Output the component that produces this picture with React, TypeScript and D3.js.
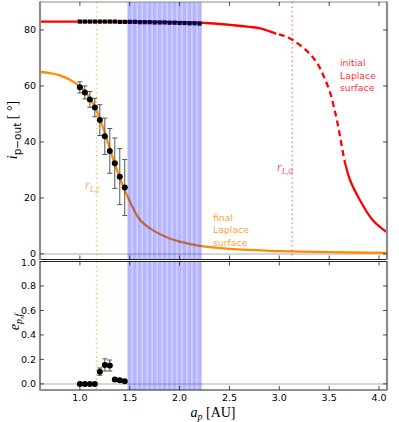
import { useEffect, useRef } from 'react';
import * as d3 from 'd3';

// simulated planets (final state)
const runA = [1.0, 1.05, 1.1, 1.15, 1.2, 1.25, 1.3, 1.35, 1.4, 1.45];
const incFinal = [59.5, 57.7, 55.2, 52.3, 47.8, 42.0, 36.8, 32.4, 27.6, 23.7];
const incErr = [2.0, 2.3, 2.8, 3.3, 5.5, 6.5, 8.0, 9.0, 10.0, 10.0];
const eccFinal = [0, 0, 0, 0, 0.1, 0.155, 0.15, 0.035, 0.03, 0.022];
const eccErr = [0, 0, 0, 0, 0.03, 0.05, 0.045, 0.012, 0.01, 0.008];

// initial inclinations
const initA = [1.0, 1.05, 1.1, 1.15, 1.2, 1.25, 1.3, 1.35, 1.4, 1.45, 1.5, 1.55, 1.6,
  1.65, 1.7, 1.75, 1.8, 1.85, 1.9, 1.95, 2.0, 2.05, 2.1, 2.15, 2.2];
const initInc = [83.0, 83.0, 83.0, 83.0, 83.0, 83.0, 83.0, 83.0, 82.9, 82.9, 82.9, 82.9, 82.8,
  82.8, 82.8, 82.7, 82.7, 82.7, 82.6, 82.6, 82.5, 82.5, 82.4, 82.4, 82.3];

// unstable runs
const bandA = [1.5, 1.55, 1.6, 1.65, 1.7, 1.75, 1.8, 1.85, 1.9, 1.95, 2.0, 2.05, 2.1, 2.15, 2.2];

// Laplace surfaces
const initSurfA = [0.6, 1.0, 1.5, 2.0, 2.3, 2.54, 2.7, 2.81, 2.97, 3.05, 3.14, 3.27, 3.37,
  3.44, 3.51, 3.57, 3.61, 3.66, 3.71, 3.81, 3.94, 4.08];
const initSurfI = [83.0, 83.0, 83.0, 82.8, 82.4, 81.7, 81.1, 80.6, 78.7, 77.9, 76.3, 72.7, 68.7,
  63.9, 57.5, 49.0, 41.8, 32.4, 26.3, 19.1, 11.9, 7.7];
const finalSurfA = [0.6, 0.7, 0.8, 0.9, 1.0, 1.05, 1.1, 1.15, 1.2, 1.25, 1.3, 1.35, 1.4, 1.45,
  1.5, 1.6, 1.7, 1.8, 1.9, 2.0, 2.2, 2.5, 3.0, 3.5, 4.08];
const finalSurfI = [65.0, 64.6, 63.8, 62.2, 59.8, 58.0, 55.6, 52.6, 48.3, 43.2, 37.6, 32.2, 27.2, 22.8,
  18.8, 12.3, 9.2, 7.1, 5.5, 4.4, 2.9, 1.8, 1.0, 0.6, 0.4];
const dashFrom = 2.97;
const dashTo = 3.66;

const rLf = 1.167;
const rL0 = 3.13;

const xTicks = [1.0, 1.5, 2.0, 2.5, 3.0, 3.5, 4.0];
const incTicks = [0, 20, 40, 60, 80];
const eccTicks = [0, 0.2, 0.4, 0.6, 0.8, 1.0];

const ORANGE = '#ff8c00';
const RED = '#ff0000';

function App() {
  const svgRef = useRef<SVGSVGElement>(null);

  useEffect(() => {
    const svg = d3.select(svgRef.current);
    svg.selectAll('*').remove();

    const left = 40, right = 387;
    const topY0 = 2, topY1 = 259.5;
    const botY0 = 261.5, botY1 = 390;

    const x = d3.scaleLinear().domain([0.6, 4.08]).range([left, right]);
    const yTop = d3.scaleLinear().domain([-2, 90]).range([topY1, topY0]);
    const yBot = d3.scaleLinear().domain([-0.05, 1.0]).range([botY1, botY0]);

    const defs = svg.append('defs');
    const clip = (id: string, x0: number, x1: number, y0: number, y1: number) => {
      defs.append('clipPath').attr('id', id)
        .append('rect').attr('x', x0).attr('y', y0).attr('width', x1 - x0).attr('height', y1 - y0);
    };
    clip('clipTop', left, right, topY0, topY1);
    clip('clipBot', left, right, botY0, botY1);
    clip('clipDash', x(dashFrom), x(dashTo), topY0, topY1);
    clip('clipSolidA', left, x(dashFrom), topY0, topY1);
    clip('clipSolidB', x(dashTo), right, topY0, topY1);

    const top = svg.append('g').attr('clip-path', 'url(#clipTop)');
    const bot = svg.append('g').attr('clip-path', 'url(#clipBot)');

    // zero lines
    top.append('line')
      .attr('x1', left).attr('x2', right).attr('y1', yTop(0)).attr('y2', yTop(0))
      .attr('stroke', '#c8c8c8').attr('stroke-width', 1.5);
    bot.append('line')
      .attr('x1', left).attr('x2', right).attr('y1', yBot(0)).attr('y2', yBot(0))
      .attr('stroke', '#c8c8c8').attr('stroke-width', 1.5);

    const line = d3.line<[number, number]>()
      .x(d => x(d[0]))
      .y(d => yTop(d[1]))
      .curve(d3.curveCatmullRom.alpha(0.5));

    // initial Laplace surface: solid, dashed in the middle, solid again
    const initPts = initSurfA.map((a, i) => [a, initSurfI[i]] as [number, number]);
    [['clipSolidA', null], ['clipDash', '6,4'], ['clipSolidB', null]].forEach(([id, dash]) => {
      top.append('path')
        .datum(initPts)
        .attr('clip-path', `url(#${id})`)
        .attr('fill', 'none')
        .attr('stroke', RED)
        .attr('stroke-width', 2.3)
        .attr('stroke-dasharray', dash)
        .attr('d', line);
    });

    // final Laplace surface
    top.append('path')
      .datum(finalSurfA.map((a, i) => [a, finalSurfI[i]] as [number, number]))
      .attr('fill', 'none')
      .attr('stroke', ORANGE)
      .attr('stroke-width', 2.3)
      .attr('d', line);

    // Laplace radii
    top.append('line')
      .attr('x1', x(rL0)).attr('x2', x(rL0)).attr('y1', topY0).attr('y2', topY1)
      .attr('stroke', RED).attr('stroke-opacity', 0.45)
      .attr('stroke-width', 1.5).attr('stroke-dasharray', '1.5,3');
    [top, bot].forEach((g, k) => {
      g.append('line')
        .attr('x1', x(rLf)).attr('x2', x(rLf))
        .attr('y1', k === 0 ? topY0 : botY0).attr('y2', k === 0 ? topY1 : botY1)
        .attr('stroke', ORANGE).attr('stroke-opacity', 0.5)
        .attr('stroke-width', 1.5).attr('stroke-dasharray', '1.5,3');
    });

    // initial inclinations
    const sq = 4.2;
    top.selectAll('rect.init')
      .data(initA)
      .join('rect')
      .attr('class', 'init')
      .attr('x', d => x(d) - sq / 2)
      .attr('y', (d, i) => yTop(initInc[i]) - sq / 2)
      .attr('width', sq)
      .attr('height', sq)
      .attr('fill', '#000');

    // error bars + points
    const drawErr = (g: any, y: any, vals: number[], errs: number[]) => {
      runA.forEach((a, i) => {
        if (errs[i] <= 0) return;
        const cx = x(a);
        const y1 = y(vals[i] - errs[i]);
        const y2 = y(vals[i] + errs[i]);
        g.append('line').attr('x1', cx).attr('x2', cx).attr('y1', y1).attr('y2', y2)
          .attr('stroke', '#555').attr('stroke-width', 1);
        [y1, y2].forEach(yy => {
          g.append('line').attr('x1', cx - 2.5).attr('x2', cx + 2.5).attr('y1', yy).attr('y2', yy)
            .attr('stroke', '#555').attr('stroke-width', 1);
        });
      });
      g.selectAll(null)
        .data(runA)
        .join('circle')
        .attr('cx', (d: number) => x(d))
        .attr('cy', (d: number, i: number) => y(vals[i]))
        .attr('r', 3)
        .attr('fill', '#000');
    };
    drawErr(top, yTop, incFinal, incErr);
    drawErr(bot, yBot, eccFinal, eccErr);

    // unstable band
    const half = (x(0.05) - x(0)) / 2;
    [[top, topY0, topY1], [bot, botY0, botY1]].forEach(([g, y0, y1]: any) => {
      g.append('rect')
        .attr('x', x(bandA[0]) - half).attr('y', y0)
        .attr('width', x(bandA[bandA.length - 1]) - x(bandA[0]) + 2 * half)
        .attr('height', y1 - y0)
        .attr('fill', '#0000ff').attr('fill-opacity', 0.15);
      g.selectAll(null)
        .data(bandA)
        .join('rect')
        .attr('x', (d: number) => x(d) - half + 0.5)
        .attr('y', y0)
        .attr('width', 2 * half - 1.2)
        .attr('height', y1 - y0)
        .attr('fill', '#0000ff').attr('fill-opacity', 0.16);
    });

    // annotations
    const note = (lines: string[], x0: number, y0: number, color: string) => {
      lines.forEach((t, i) => {
        svg.append('text')
          .attr('x', x0).attr('y', y0 + i * 12.5)
          .attr('fill', color).attr('fill-opacity', 0.85)
          .style('font-family', 'DejaVu Sans')
          .style('font-size', '9.3px')
          .text(t);
      });
    };
    note(['initial', 'Laplace', 'surface'], 340, 66, RED);
    note(['final', 'Laplace', 'surface'], 213, 220.5, ORANGE);

    const rLabel = (sub: string, x0: number, y0: number, color: string) => {
      const t = svg.append('text')
        .attr('x', x0).attr('y', y0)
        .attr('fill', color).attr('fill-opacity', 0.75)
        .style('font-family', 'Liberation Serif');
      t.append('tspan').style('font-style', 'italic').style('font-size', '12px').text('r');
      t.append('tspan').attr('dy', 2.5).style('font-style', 'italic').style('font-size', '8.5px').text(sub);
    };
    rLabel('L,f', 85, 189, ORANGE);
    rLabel('L,0', 277, 171, RED);

    // frames
    const frame = (y0: number, y1: number, topColor: string) => {
      svg.append('line').attr('x1', left).attr('x2', right).attr('y1', y0).attr('y2', y0)
        .attr('stroke', topColor).attr('stroke-width', 1);
      svg.append('line').attr('x1', left).attr('x2', right).attr('y1', y1).attr('y2', y1)
        .attr('stroke', '#222').attr('stroke-width', 1);
      [left, right].forEach(xx => {
        svg.append('line').attr('x1', xx).attr('x2', xx).attr('y1', y0 - 0.5).attr('y2', y1 + 0.5)
          .attr('stroke', '#8c8c8c').attr('stroke-width', 2.2);
      });
    };
    frame(topY0, topY1, '#888');
    frame(botY0, botY1, '#222');

    // ticks
    const tl = 4;
    const tickG = svg.append('g').attr('stroke', '#222').attr('stroke-width', 0.8);
    [[topY0, topY1], [botY0, botY1]].forEach(([y0, y1]) => {
      xTicks.forEach(t => {
        tickG.append('line').attr('x1', x(t)).attr('x2', x(t)).attr('y1', y0).attr('y2', y0 + tl);
        tickG.append('line').attr('x1', x(t)).attr('x2', x(t)).attr('y1', y1).attr('y2', y1 - tl);
      });
    });
    incTicks.forEach(t => {
      tickG.append('line').attr('x1', left).attr('x2', left + tl).attr('y1', yTop(t)).attr('y2', yTop(t));
      tickG.append('line').attr('x1', right).attr('x2', right - tl).attr('y1', yTop(t)).attr('y2', yTop(t));
    });
    eccTicks.forEach(t => {
      tickG.append('line').attr('x1', left).attr('x2', left + tl).attr('y1', yBot(t)).attr('y2', yBot(t));
      tickG.append('line').attr('x1', right).attr('x2', right - tl).attr('y1', yBot(t)).attr('y2', yBot(t));
    });

    // tick labels
    const lbl = (tx: number, ty: number, s: string, anchor: string) => {
      svg.append('text')
        .attr('x', tx).attr('y', ty)
        .attr('text-anchor', anchor)
        .attr('dominant-baseline', 'central')
        .style('font-family', 'DejaVu Sans')
        .style('font-size', '9.5px')
        .attr('fill', '#000')
        .text(s);
    };
    incTicks.forEach(t => lbl(36, yTop(t) - 0.5, d3.format('d')(t), 'end'));
    eccTicks.forEach(t => lbl(36, yBot(t) + (t === 1 ? 0.8 : 0), d3.format('.1f')(t), 'end'));
    xTicks.forEach(t => lbl(x(t), 397, d3.format('.1f')(t), 'middle'));

    // axis titles
    const xl = svg.append('text')
      .attr('x', 213).attr('y', 417)
      .attr('text-anchor', 'middle')
      .style('font-family', 'Liberation Serif')
      .style('font-size', '14px');
    xl.append('tspan').style('font-style', 'italic').text('a');
    xl.append('tspan').attr('dy', 3).style('font-style', 'italic').style('font-size', '10px').text('p');
    xl.append('tspan').attr('dy', -3).text(' [AU]');

    const yl = svg.append('text')
      .attr('transform', 'translate(17,130) rotate(-90)')
      .attr('text-anchor', 'middle')
      .style('font-family', 'Liberation Serif')
      .style('font-size', '14px');
    yl.append('tspan').style('font-style', 'italic').text('i');
    yl.append('tspan').attr('dy', 3.5).style('font-family', 'DejaVu Sans').style('font-size', '10.5px').text('p\u2212out');
    yl.append('tspan').attr('dy', -3.5).text(' [ \u00b0]');

    const el = svg.append('text')
      .attr('transform', 'translate(19,322) rotate(-90)')
      .attr('text-anchor', 'middle')
      .style('font-family', 'Liberation Serif')
      .style('font-size', '14px');
    el.append('tspan').style('font-style', 'italic').text('e');
    el.append('tspan').attr('dy', 3).style('font-style', 'italic').style('font-size', '10px').text('p,f');
  }, []);

  return (
    <svg ref={svgRef} width={399} height={422}
      style={{ position: 'absolute', left: 0, top: 0, background: '#fff' }} />
  );
}

export default App;
